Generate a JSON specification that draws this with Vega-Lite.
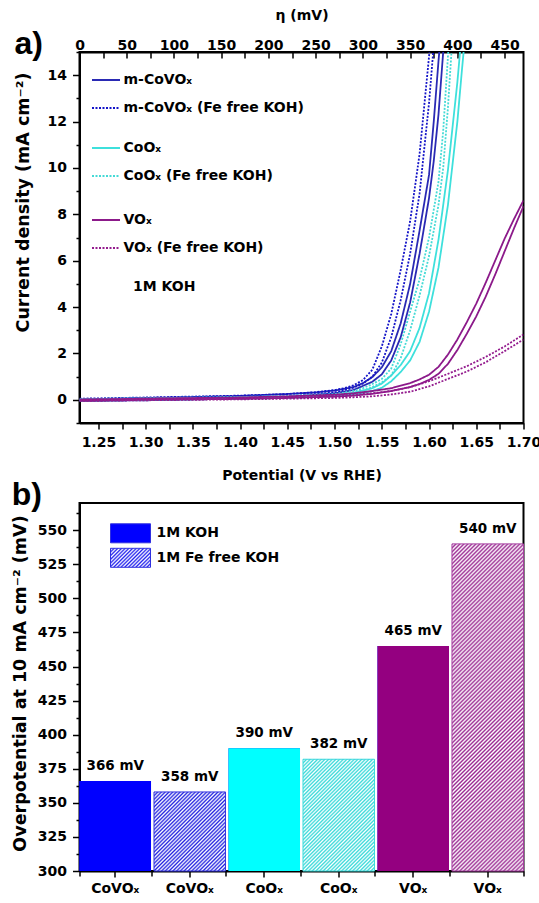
{
"$schema": "https://vega.github.io/schema/vega-lite/v6.json",
"background": "white",
"padding": {"left": 10.5, "top": 7, "right": 0, "bottom": 0},
"spacing": -5,
"config": {
  "font": "DejaVu Sans",
  "view": {"stroke": "black", "strokeWidth": 2},
  "axis": {"labelFont": "DejaVu Sans", "labelFontWeight": "bold", "labelFontSize": 14, "labelColor": "black", "titleFont": "DejaVu Sans", "titleFontWeight": "bold", "titleFontSize": 14, "titleColor": "black", "domainColor": "black", "domainWidth": 2, "tickColor": "black", "tickWidth": 1.5, "grid": false, "labelFlush": false, "labelOverlap": false, "labelBound": false},
  "legend": {"labelFont": "DejaVu Sans", "labelFontWeight": "bold", "labelFontSize": 14, "labelColor": "black", "labelLimit": 400},
  "title": {"font": "Liberation Sans", "fontWeight": "bold", "fontSize": 32, "color": "black"}
},
"vconcat": [
{
  "width": 444, "height": 371,
  "title": {"text": "a)", "anchor": "start", "frame": "bounds", "baseline": "alphabetic", "dy": 82, "offset": 4},
  "data": {"values": [
{"s":"m-CoVOₓ","g":"CoVO","b":"a","E":1.23,"j":0.02},{"s":"m-CoVOₓ","g":"CoVO","b":"a","E":1.30,"j":0.08},{"s":"m-CoVOₓ","g":"CoVO","b":"a","E":1.35,"j":0.12},{"s":"m-CoVOₓ","g":"CoVO","b":"a","E":1.40,"j":0.17},{"s":"m-CoVOₓ","g":"CoVO","b":"a","E":1.45,"j":0.25},{"s":"m-CoVOₓ","g":"CoVO","b":"a","E":1.48,"j":0.32},{"s":"m-CoVOₓ","g":"CoVO","b":"a","E":1.50,"j":0.40},{"s":"m-CoVOₓ","g":"CoVO","b":"a","E":1.52,"j":0.55},{"s":"m-CoVOₓ","g":"CoVO","b":"a","E":1.53,"j":0.72},{"s":"m-CoVOₓ","g":"CoVO","b":"a","E":1.54,"j":0.98},{"s":"m-CoVOₓ","g":"CoVO","b":"a","E":1.55,"j":1.4},{"s":"m-CoVOₓ","g":"CoVO","b":"a","E":1.56,"j":2.1},{"s":"m-CoVOₓ","g":"CoVO","b":"a","E":1.57,"j":3.3},{"s":"m-CoVOₓ","g":"CoVO","b":"a","E":1.58,"j":5.0},{"s":"m-CoVOₓ","g":"CoVO","b":"a","E":1.59,"j":7.3},{"s":"m-CoVOₓ","g":"CoVO","b":"a","E":1.60,"j":9.7},{"s":"m-CoVOₓ","g":"CoVO","b":"a","E":1.605,"j":12.0},{"s":"m-CoVOₓ","g":"CoVO","b":"a","E":1.61,"j":14.6},{"s":"m-CoVOₓ","g":"CoVO","b":"a","E":1.613,"j":16.0},
{"s":"m-CoVOₓ","g":"CoVO","b":"b","E":1.23,"j":-0.05},{"s":"m-CoVOₓ","g":"CoVO","b":"b","E":1.30,"j":-0.02},{"s":"m-CoVOₓ","g":"CoVO","b":"b","E":1.40,"j":0.05},{"s":"m-CoVOₓ","g":"CoVO","b":"b","E":1.45,"j":0.12},{"s":"m-CoVOₓ","g":"CoVO","b":"b","E":1.50,"j":0.28},{"s":"m-CoVOₓ","g":"CoVO","b":"b","E":1.52,"j":0.42},{"s":"m-CoVOₓ","g":"CoVO","b":"b","E":1.54,"j":0.78},{"s":"m-CoVOₓ","g":"CoVO","b":"b","E":1.55,"j":1.1},{"s":"m-CoVOₓ","g":"CoVO","b":"b","E":1.56,"j":1.7},{"s":"m-CoVOₓ","g":"CoVO","b":"b","E":1.57,"j":2.7},{"s":"m-CoVOₓ","g":"CoVO","b":"b","E":1.58,"j":4.2},{"s":"m-CoVOₓ","g":"CoVO","b":"b","E":1.59,"j":6.3},{"s":"m-CoVOₓ","g":"CoVO","b":"b","E":1.60,"j":8.7},{"s":"m-CoVOₓ","g":"CoVO","b":"b","E":1.605,"j":10.3},{"s":"m-CoVOₓ","g":"CoVO","b":"b","E":1.61,"j":12.3},{"s":"m-CoVOₓ","g":"CoVO","b":"b","E":1.615,"j":15.0},{"s":"m-CoVOₓ","g":"CoVO","b":"b","E":1.618,"j":16.5},
{"s":"m-CoVOₓ (Fe free KOH)","g":"CoVO","b":"a","E":1.23,"j":0.05},{"s":"m-CoVOₓ (Fe free KOH)","g":"CoVO","b":"a","E":1.30,"j":0.1},{"s":"m-CoVOₓ (Fe free KOH)","g":"CoVO","b":"a","E":1.40,"j":0.18},{"s":"m-CoVOₓ (Fe free KOH)","g":"CoVO","b":"a","E":1.45,"j":0.25},{"s":"m-CoVOₓ (Fe free KOH)","g":"CoVO","b":"a","E":1.48,"j":0.33},{"s":"m-CoVOₓ (Fe free KOH)","g":"CoVO","b":"a","E":1.50,"j":0.42},{"s":"m-CoVOₓ (Fe free KOH)","g":"CoVO","b":"a","E":1.51,"j":0.5},{"s":"m-CoVOₓ (Fe free KOH)","g":"CoVO","b":"a","E":1.52,"j":0.62},{"s":"m-CoVOₓ (Fe free KOH)","g":"CoVO","b":"a","E":1.53,"j":0.85},{"s":"m-CoVOₓ (Fe free KOH)","g":"CoVO","b":"a","E":1.54,"j":1.3},{"s":"m-CoVOₓ (Fe free KOH)","g":"CoVO","b":"a","E":1.55,"j":2.3},{"s":"m-CoVOₓ (Fe free KOH)","g":"CoVO","b":"a","E":1.56,"j":3.7},{"s":"m-CoVOₓ (Fe free KOH)","g":"CoVO","b":"a","E":1.57,"j":5.6},{"s":"m-CoVOₓ (Fe free KOH)","g":"CoVO","b":"a","E":1.58,"j":7.7},{"s":"m-CoVOₓ (Fe free KOH)","g":"CoVO","b":"a","E":1.59,"j":10.6},{"s":"m-CoVOₓ (Fe free KOH)","g":"CoVO","b":"a","E":1.60,"j":14.8},{"s":"m-CoVOₓ (Fe free KOH)","g":"CoVO","b":"a","E":1.603,"j":16.2},
{"s":"m-CoVOₓ (Fe free KOH)","g":"CoVO","b":"b","E":1.23,"j":-0.03},{"s":"m-CoVOₓ (Fe free KOH)","g":"CoVO","b":"b","E":1.30,"j":0.0},{"s":"m-CoVOₓ (Fe free KOH)","g":"CoVO","b":"b","E":1.40,"j":0.08},{"s":"m-CoVOₓ (Fe free KOH)","g":"CoVO","b":"b","E":1.45,"j":0.15},{"s":"m-CoVOₓ (Fe free KOH)","g":"CoVO","b":"b","E":1.50,"j":0.32},{"s":"m-CoVOₓ (Fe free KOH)","g":"CoVO","b":"b","E":1.52,"j":0.52},{"s":"m-CoVOₓ (Fe free KOH)","g":"CoVO","b":"b","E":1.53,"j":0.7},{"s":"m-CoVOₓ (Fe free KOH)","g":"CoVO","b":"b","E":1.54,"j":1.0},{"s":"m-CoVOₓ (Fe free KOH)","g":"CoVO","b":"b","E":1.55,"j":1.6},{"s":"m-CoVOₓ (Fe free KOH)","g":"CoVO","b":"b","E":1.56,"j":2.7},{"s":"m-CoVOₓ (Fe free KOH)","g":"CoVO","b":"b","E":1.57,"j":4.3},{"s":"m-CoVOₓ (Fe free KOH)","g":"CoVO","b":"b","E":1.58,"j":6.3},{"s":"m-CoVOₓ (Fe free KOH)","g":"CoVO","b":"b","E":1.59,"j":8.9},{"s":"m-CoVOₓ (Fe free KOH)","g":"CoVO","b":"b","E":1.60,"j":12.8},{"s":"m-CoVOₓ (Fe free KOH)","g":"CoVO","b":"b","E":1.605,"j":15.3},{"s":"m-CoVOₓ (Fe free KOH)","g":"CoVO","b":"b","E":1.608,"j":16.8},
{"s":"CoOₓ","g":"CoO","b":"a","E":1.23,"j":0.0},{"s":"CoOₓ","g":"CoO","b":"a","E":1.30,"j":0.05},{"s":"CoOₓ","g":"CoO","b":"a","E":1.40,"j":0.1},{"s":"CoOₓ","g":"CoO","b":"a","E":1.45,"j":0.13},{"s":"CoOₓ","g":"CoO","b":"a","E":1.50,"j":0.2},{"s":"CoOₓ","g":"CoO","b":"a","E":1.52,"j":0.3},{"s":"CoOₓ","g":"CoO","b":"a","E":1.54,"j":0.5},{"s":"CoOₓ","g":"CoO","b":"a","E":1.55,"j":0.7},{"s":"CoOₓ","g":"CoO","b":"a","E":1.56,"j":1.05},{"s":"CoOₓ","g":"CoO","b":"a","E":1.57,"j":1.5},{"s":"CoOₓ","g":"CoO","b":"a","E":1.58,"j":2.1},{"s":"CoOₓ","g":"CoO","b":"a","E":1.59,"j":3.1},{"s":"CoOₓ","g":"CoO","b":"a","E":1.60,"j":4.6},{"s":"CoOₓ","g":"CoO","b":"a","E":1.61,"j":6.9},{"s":"CoOₓ","g":"CoO","b":"a","E":1.62,"j":9.9},{"s":"CoOₓ","g":"CoO","b":"a","E":1.63,"j":13.7},{"s":"CoOₓ","g":"CoO","b":"a","E":1.635,"j":16.0},
{"s":"CoOₓ","g":"CoO","b":"b","E":1.23,"j":-0.05},{"s":"CoOₓ","g":"CoO","b":"b","E":1.30,"j":0.0},{"s":"CoOₓ","g":"CoO","b":"b","E":1.40,"j":0.05},{"s":"CoOₓ","g":"CoO","b":"b","E":1.45,"j":0.08},{"s":"CoOₓ","g":"CoO","b":"b","E":1.50,"j":0.15},{"s":"CoOₓ","g":"CoO","b":"b","E":1.52,"j":0.22},{"s":"CoOₓ","g":"CoO","b":"b","E":1.54,"j":0.38},{"s":"CoOₓ","g":"CoO","b":"b","E":1.55,"j":0.52},{"s":"CoOₓ","g":"CoO","b":"b","E":1.56,"j":0.8},{"s":"CoOₓ","g":"CoO","b":"b","E":1.57,"j":1.2},{"s":"CoOₓ","g":"CoO","b":"b","E":1.58,"j":1.7},{"s":"CoOₓ","g":"CoO","b":"b","E":1.59,"j":2.5},{"s":"CoOₓ","g":"CoO","b":"b","E":1.60,"j":3.8},{"s":"CoOₓ","g":"CoO","b":"b","E":1.61,"j":5.7},{"s":"CoOₓ","g":"CoO","b":"b","E":1.62,"j":8.4},{"s":"CoOₓ","g":"CoO","b":"b","E":1.63,"j":12.0},{"s":"CoOₓ","g":"CoO","b":"b","E":1.635,"j":14.3},{"s":"CoOₓ","g":"CoO","b":"b","E":1.64,"j":16.5},
{"s":"CoOₓ (Fe free KOH)","g":"CoO","b":"a","E":1.23,"j":0.03},{"s":"CoOₓ (Fe free KOH)","g":"CoO","b":"a","E":1.30,"j":0.07},{"s":"CoOₓ (Fe free KOH)","g":"CoO","b":"a","E":1.40,"j":0.12},{"s":"CoOₓ (Fe free KOH)","g":"CoO","b":"a","E":1.45,"j":0.17},{"s":"CoOₓ (Fe free KOH)","g":"CoO","b":"a","E":1.50,"j":0.25},{"s":"CoOₓ (Fe free KOH)","g":"CoO","b":"a","E":1.52,"j":0.38},{"s":"CoOₓ (Fe free KOH)","g":"CoO","b":"a","E":1.53,"j":0.5},{"s":"CoOₓ (Fe free KOH)","g":"CoO","b":"a","E":1.54,"j":0.68},{"s":"CoOₓ (Fe free KOH)","g":"CoO","b":"a","E":1.55,"j":0.9},{"s":"CoOₓ (Fe free KOH)","g":"CoO","b":"a","E":1.56,"j":1.35},{"s":"CoOₓ (Fe free KOH)","g":"CoO","b":"a","E":1.57,"j":2.4},{"s":"CoOₓ (Fe free KOH)","g":"CoO","b":"a","E":1.58,"j":3.8},{"s":"CoOₓ (Fe free KOH)","g":"CoO","b":"a","E":1.59,"j":5.2},{"s":"CoOₓ (Fe free KOH)","g":"CoO","b":"a","E":1.60,"j":7.0},{"s":"CoOₓ (Fe free KOH)","g":"CoO","b":"a","E":1.61,"j":9.4},{"s":"CoOₓ (Fe free KOH)","g":"CoO","b":"a","E":1.615,"j":11.6},{"s":"CoOₓ (Fe free KOH)","g":"CoO","b":"a","E":1.62,"j":14.8},{"s":"CoOₓ (Fe free KOH)","g":"CoO","b":"a","E":1.623,"j":16.5},
{"s":"CoOₓ (Fe free KOH)","g":"CoO","b":"b","E":1.23,"j":-0.02},{"s":"CoOₓ (Fe free KOH)","g":"CoO","b":"b","E":1.30,"j":0.02},{"s":"CoOₓ (Fe free KOH)","g":"CoO","b":"b","E":1.40,"j":0.07},{"s":"CoOₓ (Fe free KOH)","g":"CoO","b":"b","E":1.45,"j":0.12},{"s":"CoOₓ (Fe free KOH)","g":"CoO","b":"b","E":1.50,"j":0.2},{"s":"CoOₓ (Fe free KOH)","g":"CoO","b":"b","E":1.52,"j":0.3},{"s":"CoOₓ (Fe free KOH)","g":"CoO","b":"b","E":1.53,"j":0.4},{"s":"CoOₓ (Fe free KOH)","g":"CoO","b":"b","E":1.54,"j":0.55},{"s":"CoOₓ (Fe free KOH)","g":"CoO","b":"b","E":1.55,"j":0.75},{"s":"CoOₓ (Fe free KOH)","g":"CoO","b":"b","E":1.56,"j":1.05},{"s":"CoOₓ (Fe free KOH)","g":"CoO","b":"b","E":1.57,"j":1.8},{"s":"CoOₓ (Fe free KOH)","g":"CoO","b":"b","E":1.58,"j":3.0},{"s":"CoOₓ (Fe free KOH)","g":"CoO","b":"b","E":1.59,"j":4.5},{"s":"CoOₓ (Fe free KOH)","g":"CoO","b":"b","E":1.60,"j":6.2},{"s":"CoOₓ (Fe free KOH)","g":"CoO","b":"b","E":1.61,"j":8.4},{"s":"CoOₓ (Fe free KOH)","g":"CoO","b":"b","E":1.615,"j":10.0},{"s":"CoOₓ (Fe free KOH)","g":"CoO","b":"b","E":1.62,"j":12.6},{"s":"CoOₓ (Fe free KOH)","g":"CoO","b":"b","E":1.625,"j":15.8},{"s":"CoOₓ (Fe free KOH)","g":"CoO","b":"b","E":1.627,"j":17.0},
{"s":"VOₓ","g":"VO","b":"a","E":1.23,"j":0.0},{"s":"VOₓ","g":"VO","b":"a","E":1.30,"j":0.05},{"s":"VOₓ","g":"VO","b":"a","E":1.40,"j":0.1},{"s":"VOₓ","g":"VO","b":"a","E":1.45,"j":0.15},{"s":"VOₓ","g":"VO","b":"a","E":1.50,"j":0.22},{"s":"VOₓ","g":"VO","b":"a","E":1.52,"j":0.28},{"s":"VOₓ","g":"VO","b":"a","E":1.54,"j":0.38},{"s":"VOₓ","g":"VO","b":"a","E":1.56,"j":0.5},{"s":"VOₓ","g":"VO","b":"a","E":1.58,"j":0.72},{"s":"VOₓ","g":"VO","b":"a","E":1.59,"j":0.88},{"s":"VOₓ","g":"VO","b":"a","E":1.60,"j":1.08},{"s":"VOₓ","g":"VO","b":"a","E":1.61,"j":1.42},{"s":"VOₓ","g":"VO","b":"a","E":1.62,"j":1.95},{"s":"VOₓ","g":"VO","b":"a","E":1.63,"j":2.6},{"s":"VOₓ","g":"VO","b":"a","E":1.64,"j":3.35},{"s":"VOₓ","g":"VO","b":"a","E":1.65,"j":4.15},{"s":"VOₓ","g":"VO","b":"a","E":1.66,"j":5.05},{"s":"VOₓ","g":"VO","b":"a","E":1.67,"j":6.0},{"s":"VOₓ","g":"VO","b":"a","E":1.68,"j":6.95},{"s":"VOₓ","g":"VO","b":"a","E":1.69,"j":7.8},{"s":"VOₓ","g":"VO","b":"a","E":1.70,"j":8.6},
{"s":"VOₓ","g":"VO","b":"b","E":1.23,"j":-0.05},{"s":"VOₓ","g":"VO","b":"b","E":1.30,"j":0.0},{"s":"VOₓ","g":"VO","b":"b","E":1.40,"j":0.04},{"s":"VOₓ","g":"VO","b":"b","E":1.45,"j":0.08},{"s":"VOₓ","g":"VO","b":"b","E":1.50,"j":0.14},{"s":"VOₓ","g":"VO","b":"b","E":1.52,"j":0.18},{"s":"VOₓ","g":"VO","b":"b","E":1.54,"j":0.26},{"s":"VOₓ","g":"VO","b":"b","E":1.56,"j":0.38},{"s":"VOₓ","g":"VO","b":"b","E":1.58,"j":0.55},{"s":"VOₓ","g":"VO","b":"b","E":1.59,"j":0.68},{"s":"VOₓ","g":"VO","b":"b","E":1.60,"j":0.86},{"s":"VOₓ","g":"VO","b":"b","E":1.61,"j":1.12},{"s":"VOₓ","g":"VO","b":"b","E":1.62,"j":1.55},{"s":"VOₓ","g":"VO","b":"b","E":1.63,"j":2.15},{"s":"VOₓ","g":"VO","b":"b","E":1.64,"j":2.85},{"s":"VOₓ","g":"VO","b":"b","E":1.65,"j":3.6},{"s":"VOₓ","g":"VO","b":"b","E":1.66,"j":4.45},{"s":"VOₓ","g":"VO","b":"b","E":1.67,"j":5.4},{"s":"VOₓ","g":"VO","b":"b","E":1.68,"j":6.4},{"s":"VOₓ","g":"VO","b":"b","E":1.69,"j":7.4},{"s":"VOₓ","g":"VO","b":"b","E":1.70,"j":8.35},
{"s":"VOₓ (Fe free KOH)","g":"VO","b":"a","E":1.23,"j":0.02},{"s":"VOₓ (Fe free KOH)","g":"VO","b":"a","E":1.30,"j":0.05},{"s":"VOₓ (Fe free KOH)","g":"VO","b":"a","E":1.40,"j":0.09},{"s":"VOₓ (Fe free KOH)","g":"VO","b":"a","E":1.45,"j":0.12},{"s":"VOₓ (Fe free KOH)","g":"VO","b":"a","E":1.50,"j":0.18},{"s":"VOₓ (Fe free KOH)","g":"VO","b":"a","E":1.52,"j":0.22},{"s":"VOₓ (Fe free KOH)","g":"VO","b":"a","E":1.54,"j":0.28},{"s":"VOₓ (Fe free KOH)","g":"VO","b":"a","E":1.56,"j":0.38},{"s":"VOₓ (Fe free KOH)","g":"VO","b":"a","E":1.58,"j":0.55},{"s":"VOₓ (Fe free KOH)","g":"VO","b":"a","E":1.60,"j":0.8},{"s":"VOₓ (Fe free KOH)","g":"VO","b":"a","E":1.62,"j":1.12},{"s":"VOₓ (Fe free KOH)","g":"VO","b":"a","E":1.64,"j":1.45},{"s":"VOₓ (Fe free KOH)","g":"VO","b":"a","E":1.66,"j":1.85},{"s":"VOₓ (Fe free KOH)","g":"VO","b":"a","E":1.68,"j":2.3},{"s":"VOₓ (Fe free KOH)","g":"VO","b":"a","E":1.70,"j":2.82},
{"s":"VOₓ (Fe free KOH)","g":"VO","b":"b","E":1.23,"j":-0.05},{"s":"VOₓ (Fe free KOH)","g":"VO","b":"b","E":1.30,"j":-0.02},{"s":"VOₓ (Fe free KOH)","g":"VO","b":"b","E":1.40,"j":0.02},{"s":"VOₓ (Fe free KOH)","g":"VO","b":"b","E":1.45,"j":0.05},{"s":"VOₓ (Fe free KOH)","g":"VO","b":"b","E":1.50,"j":0.08},{"s":"VOₓ (Fe free KOH)","g":"VO","b":"b","E":1.52,"j":0.11},{"s":"VOₓ (Fe free KOH)","g":"VO","b":"b","E":1.54,"j":0.15},{"s":"VOₓ (Fe free KOH)","g":"VO","b":"b","E":1.56,"j":0.23},{"s":"VOₓ (Fe free KOH)","g":"VO","b":"b","E":1.58,"j":0.35},{"s":"VOₓ (Fe free KOH)","g":"VO","b":"b","E":1.60,"j":0.58},{"s":"VOₓ (Fe free KOH)","g":"VO","b":"b","E":1.62,"j":0.9},{"s":"VOₓ (Fe free KOH)","g":"VO","b":"b","E":1.64,"j":1.22},{"s":"VOₓ (Fe free KOH)","g":"VO","b":"b","E":1.66,"j":1.62},{"s":"VOₓ (Fe free KOH)","g":"VO","b":"b","E":1.68,"j":2.1},{"s":"VOₓ (Fe free KOH)","g":"VO","b":"b","E":1.70,"j":2.6}
  ]},
  "layer": [
    {
      "transform": [{"filter": "datum.g === 'CoVO'"}],
      "mark": {"type": "line", "strokeWidth": 1.8, "clip": true},
      "encoding": {
        "x": {"field": "E", "type": "quantitative", "scale": {"domain": [1.23, 1.7], "nice": false, "zero": false},
          "axis": {"orient": "bottom", "values": [1.25,1.275,1.3,1.325,1.35,1.375,1.4,1.425,1.45,1.475,1.5,1.525,1.55,1.575,1.6,1.625,1.65,1.675,1.7], "labelExpr": "round(datum.value*1000) % 50 === 0 ? format(datum.value, '.2f') : ''", "labelOverlap": false, "labelFlush": false, "tickSize": 6, "labelPadding": 6, "title": "Potential (V vs RHE)", "titlePadding": 19}},
        "y": {"field": "j", "type": "quantitative", "scale": {"domain": [-1, 15], "nice": false, "zero": false},
          "axis": {"orient": "left", "values": [0,2,4,6,8,10,12,14], "labelOverlap": false, "labelFlush": false, "tickSize": 7, "labelPadding": 6, "title": "Current density (mA cm⁻²)", "titleFontSize": 17.5, "titlePadding": 14.5, "titleY": 150}},
        "color": {"field": "s", "type": "nominal", "scale": {"domain": ["m-CoVOₓ", "m-CoVOₓ (Fe free KOH)"], "range": ["#2a2ab4", "#1414c8"]},
          "legend": {"title": null, "orient": "none", "legendX": 11.5, "legendY": 13, "symbolType": "stroke", "symbolSize": 784, "symbolStrokeWidth": 2, "labelOffset": 2.5, "rowPadding": 6, "padding": 0}},
        "strokeDash": {"field": "s", "type": "nominal", "scale": {"domain": ["m-CoVOₓ", "m-CoVOₓ (Fe free KOH)"], "range": [[1, 0], [2, 1.5]]},
          "legend": {"title": null, "orient": "none", "legendX": 11.5, "legendY": 13, "symbolType": "stroke", "symbolSize": 784, "symbolStrokeWidth": 2, "labelOffset": 2.5, "rowPadding": 6, "padding": 0}},
        "detail": {"field": "b"}
      }
    },
    {
      "transform": [{"filter": "datum.g === 'CoO'"}],
      "mark": {"type": "line", "strokeWidth": 1.8, "clip": true},
      "encoding": {
        "x": {"field": "E", "type": "quantitative",
          "axis": {"orient": "top", "values": [1.23,1.255,1.28,1.305,1.33,1.355,1.38,1.405,1.43,1.455,1.48,1.505,1.53,1.555,1.58,1.605,1.63,1.655,1.68], "labelExpr": "round((datum.value-1.23)*1000) % 50 === 0 ? '' + round((datum.value-1.23)*1000) : ''", "labelOverlap": false, "labelFlush": false, "tickSize": -6, "labelPadding": 6, "title": "η (mV)", "titlePadding": 16}},
        "y": {"field": "j", "type": "quantitative",
          "axis": {"orient": "left", "values": [-1,1,3,5,7,9,11,13,15], "labels": false, "domain": false, "tickSize": 3.5, "title": null}},
        "color": {"field": "s", "type": "nominal", "scale": {"domain": ["CoOₓ", "CoOₓ (Fe free KOH)"], "range": ["#3ee0dc", "#44dad6"]},
          "legend": {"title": null, "orient": "none", "legendX": 11.5, "legendY": 81, "symbolType": "stroke", "symbolSize": 784, "symbolStrokeWidth": 2, "labelOffset": 2.5, "rowPadding": 6, "padding": 0}},
        "strokeDash": {"field": "s", "type": "nominal", "scale": {"domain": ["CoOₓ", "CoOₓ (Fe free KOH)"], "range": [[1, 0], [2, 1.5]]},
          "legend": {"title": null, "orient": "none", "legendX": 11.5, "legendY": 81, "symbolType": "stroke", "symbolSize": 784, "symbolStrokeWidth": 2, "labelOffset": 2.5, "rowPadding": 6, "padding": 0}},
        "detail": {"field": "b"}
      }
    },
    {
      "transform": [{"filter": "datum.g === 'VO'"}],
      "mark": {"type": "line", "strokeWidth": 1.8, "clip": true},
      "encoding": {
        "x": {"field": "E", "type": "quantitative", "axis": null},
        "y": {"field": "j", "type": "quantitative", "axis": null},
        "color": {"field": "s", "type": "nominal", "scale": {"domain": ["VOₓ", "VOₓ (Fe free KOH)"], "range": ["#8c1a8a", "#941c8e"]},
          "legend": {"title": null, "orient": "none", "legendX": 11.5, "legendY": 153, "symbolType": "stroke", "symbolSize": 784, "symbolStrokeWidth": 2, "labelOffset": 2.5, "rowPadding": 6, "padding": 0}},
        "strokeDash": {"field": "s", "type": "nominal", "scale": {"domain": ["VOₓ", "VOₓ (Fe free KOH)"], "range": [[1, 0], [2, 1.5]]},
          "legend": {"title": null, "orient": "none", "legendX": 11.5, "legendY": 153, "symbolType": "stroke", "symbolSize": 784, "symbolStrokeWidth": 2, "labelOffset": 2.5, "rowPadding": 6, "padding": 0}},
        "detail": {"field": "b"}
      }
    },
    {
      "data": {"values": [{"note": "1M KOH"}]},
      "mark": {"type": "text", "align": "left", "baseline": "middle", "fontWeight": "bold", "fontSize": 14, "font": "DejaVu Sans", "color": "black"},
      "encoding": {
        "x": {"datum": 1.2866, "type": "quantitative", "axis": null},
        "y": {"datum": 4.86, "type": "quantitative", "axis": null},
        "text": {"field": "note"}
      }
    }
  ],
  "resolve": {"scale": {"color": "independent", "strokeDash": "independent"}, "axis": {"x": "independent", "y": "independent"}}
},
{
  "width": 444, "height": 368,
  "title": {"text": "b)", "anchor": "start", "frame": "bounds", "baseline": "alphabetic", "dy": 38, "offset": 4},
  "data": {"values": [
    {"id": "CoVO_K", "mat": "CoVO", "el": "1M KOH", "eta": 366, "label": "366 mV"},
    {"id": "CoVO_Fe", "mat": "CoVO", "el": "1M Fe free KOH", "eta": 358, "label": "358 mV"},
    {"id": "CoO_K", "mat": "CoO", "el": "1M KOH", "eta": 390, "label": "390 mV"},
    {"id": "CoO_Fe", "mat": "CoO", "el": "1M Fe free KOH", "eta": 382, "label": "382 mV"},
    {"id": "VO_K", "mat": "VO", "el": "1M KOH", "eta": 465, "label": "465 mV"},
    {"id": "VO_Fe", "mat": "VO", "el": "1M Fe free KOH", "eta": 540, "label": "540 mV"}
  ]},
  "layer": [
    {
      "mark": {"type": "bar"},
      "encoding": {
        "x": {"field": "id", "type": "nominal", "scale": {"domain": ["CoVO_K", "CoVO_Fe", "CoO_K", "CoO_Fe", "VO_K", "VO_Fe"], "paddingInner": 0.04, "paddingOuter": 0},
          "axis": {"labelExpr": "indexof(datum.value, 'CoVO') === 0 ? 'CoVOₓ' : (indexof(datum.value, 'CoO') === 0 ? 'CoOₓ' : 'VOₓ')", "labelOverlap": false, "tickSize": 6, "labelPadding": 4, "labelAngle": 0, "title": null}},
        "y": {"field": "eta", "type": "quantitative", "scale": {"domain": [300, 570], "nice": false, "zero": false},
          "axis": {"orient": "left", "values": [300,325,350,375,400,425,450,475,500,525,550], "labelOverlap": false, "labelFlush": false, "tickSize": 7, "labelPadding": 6, "title": "Overpotential at 10 mA cm⁻² (mV)", "titleFontSize": 17.5, "titlePadding": 7.5, "titleY": 180}},
        "y2": {"datum": 300},
        "fill": {"field": "el", "type": "nominal",
          "scale": {"domain": ["1M KOH", "1M Fe free KOH"], "range": ["#0000ff", {"expr": "{gradient:'linear',x1:0,y1:0,x2:1.2035,y2:0.5716,stops:[{offset:0,color:'#22e'},{offset:0.03125,color:'#fff'},{offset:0.0625,color:'#22e'},{offset:0.09375,color:'#fff'},{offset:0.125,color:'#22e'},{offset:0.15625,color:'#fff'},{offset:0.1875,color:'#22e'},{offset:0.21875,color:'#fff'},{offset:0.25,color:'#22e'},{offset:0.28125,color:'#fff'},{offset:0.3125,color:'#22e'},{offset:0.34375,color:'#fff'},{offset:0.375,color:'#22e'},{offset:0.40625,color:'#fff'},{offset:0.4375,color:'#22e'},{offset:0.46875,color:'#fff'},{offset:0.5,color:'#22e'},{offset:0.53125,color:'#fff'},{offset:0.5625,color:'#22e'},{offset:0.59375,color:'#fff'},{offset:0.625,color:'#22e'},{offset:0.65625,color:'#fff'},{offset:0.6875,color:'#22e'},{offset:0.71875,color:'#fff'},{offset:0.75,color:'#22e'},{offset:0.78125,color:'#fff'},{offset:0.8125,color:'#22e'},{offset:0.84375,color:'#fff'},{offset:0.875,color:'#22e'},{offset:0.90625,color:'#fff'},{offset:0.9375,color:'#22e'},{offset:0.96875,color:'#fff'},{offset:1,color:'#22e'}]}"}]},
          "legend": {"title": null, "orient": "none", "legendX": 40.5, "legendY": 470.8, "symbolType": "M-2,-0.95H2V0.95H-2Z", "symbolSize": 400, "symbolStrokeColor": "#3030e0", "symbolStrokeWidth": 1, "labelOffset": 15.5, "rowPadding": 1.5, "padding": 0}}
      }
    },
    {
      "transform": [{"filter": "datum.el === '1M KOH'"}],
      "mark": {"type": "bar"},
      "encoding": {
        "x": {"field": "id", "type": "nominal", "axis": null},
        "y": {"field": "eta", "type": "quantitative",
          "axis": {"orient": "left", "values": [312.5,337.5,362.5,387.5,412.5,437.5,462.5,487.5,512.5,537.5,562.5], "labels": false, "domain": false, "tickSize": 3.5, "title": null}},
        "y2": {"datum": 300},
        "color": {"field": "mat", "type": "nominal", "scale": {"domain": ["CoVO", "CoO", "VO"], "range": ["#0000ff", "#00ffff", "#940080"]}, "legend": null}
      }
    },
    {
      "transform": [{"filter": "datum.id === 'CoVO_Fe'"}],
      "mark": {"type": "bar", "stroke": "#3434e0", "strokeWidth": 1, "fill": {"gradient": "linear", "x1": 0, "y1": 0, "x2": 0.9478, "y2": 1.0472, "stops": [
{"offset":0,"color":"#2424e0"},{"offset":0.0125,"color":"#fff"},{"offset":0.025,"color":"#2424e0"},{"offset":0.0375,"color":"#fff"},{"offset":0.05,"color":"#2424e0"},{"offset":0.0625,"color":"#fff"},{"offset":0.075,"color":"#2424e0"},{"offset":0.0875,"color":"#fff"},{"offset":0.1,"color":"#2424e0"},{"offset":0.1125,"color":"#fff"},{"offset":0.125,"color":"#2424e0"},{"offset":0.1375,"color":"#fff"},{"offset":0.15,"color":"#2424e0"},{"offset":0.1625,"color":"#fff"},{"offset":0.175,"color":"#2424e0"},{"offset":0.1875,"color":"#fff"},{"offset":0.2,"color":"#2424e0"},{"offset":0.2125,"color":"#fff"},{"offset":0.225,"color":"#2424e0"},{"offset":0.2375,"color":"#fff"},{"offset":0.25,"color":"#2424e0"},{"offset":0.2625,"color":"#fff"},{"offset":0.275,"color":"#2424e0"},{"offset":0.2875,"color":"#fff"},{"offset":0.3,"color":"#2424e0"},{"offset":0.3125,"color":"#fff"},{"offset":0.325,"color":"#2424e0"},{"offset":0.3375,"color":"#fff"},{"offset":0.35,"color":"#2424e0"},{"offset":0.3625,"color":"#fff"},{"offset":0.375,"color":"#2424e0"},{"offset":0.3875,"color":"#fff"},{"offset":0.4,"color":"#2424e0"},{"offset":0.4125,"color":"#fff"},{"offset":0.425,"color":"#2424e0"},{"offset":0.4375,"color":"#fff"},{"offset":0.45,"color":"#2424e0"},{"offset":0.4625,"color":"#fff"},{"offset":0.475,"color":"#2424e0"},{"offset":0.4875,"color":"#fff"},{"offset":0.5,"color":"#2424e0"},{"offset":0.5125,"color":"#fff"},{"offset":0.525,"color":"#2424e0"},{"offset":0.5375,"color":"#fff"},{"offset":0.55,"color":"#2424e0"},{"offset":0.5625,"color":"#fff"},{"offset":0.575,"color":"#2424e0"},{"offset":0.5875,"color":"#fff"},{"offset":0.6,"color":"#2424e0"},{"offset":0.6125,"color":"#fff"},{"offset":0.625,"color":"#2424e0"},{"offset":0.6375,"color":"#fff"},{"offset":0.65,"color":"#2424e0"},{"offset":0.6625,"color":"#fff"},{"offset":0.675,"color":"#2424e0"},{"offset":0.6875,"color":"#fff"},{"offset":0.7,"color":"#2424e0"},{"offset":0.7125,"color":"#fff"},{"offset":0.725,"color":"#2424e0"},{"offset":0.7375,"color":"#fff"},{"offset":0.75,"color":"#2424e0"},{"offset":0.7625,"color":"#fff"},{"offset":0.775,"color":"#2424e0"},{"offset":0.7875,"color":"#fff"},{"offset":0.8,"color":"#2424e0"},{"offset":0.8125,"color":"#fff"},{"offset":0.825,"color":"#2424e0"},{"offset":0.8375,"color":"#fff"},{"offset":0.85,"color":"#2424e0"},{"offset":0.8625,"color":"#fff"},{"offset":0.875,"color":"#2424e0"},{"offset":0.8875,"color":"#fff"},{"offset":0.9,"color":"#2424e0"},{"offset":0.9125,"color":"#fff"},{"offset":0.925,"color":"#2424e0"},{"offset":0.9375,"color":"#fff"},{"offset":0.95,"color":"#2424e0"},{"offset":0.9625,"color":"#fff"},{"offset":0.975,"color":"#2424e0"},{"offset":0.9875,"color":"#fff"},{"offset":1,"color":"#2424e0"}
      ]}},
      "encoding": {
        "x": {"field": "id", "type": "nominal", "axis": null},
        "y": {"field": "eta", "type": "quantitative", "axis": null},
        "y2": {"datum": 300}
      }
    },
    {
      "transform": [{"filter": "datum.id === 'CoO_Fe'"}],
      "mark": {"type": "bar", "stroke": "#3cdcdc", "strokeWidth": 1, "fill": {"gradient": "linear", "x1": 0, "y1": 0, "x2": 0.7442, "y2": 1.1636, "stops": [
{"offset":0,"color":"#33d8d8"},{"offset":0.01,"color":"#fff"},{"offset":0.02,"color":"#33d8d8"},{"offset":0.03,"color":"#fff"},{"offset":0.04,"color":"#33d8d8"},{"offset":0.05,"color":"#fff"},{"offset":0.06,"color":"#33d8d8"},{"offset":0.07,"color":"#fff"},{"offset":0.08,"color":"#33d8d8"},{"offset":0.09,"color":"#fff"},{"offset":0.1,"color":"#33d8d8"},{"offset":0.11,"color":"#fff"},{"offset":0.12,"color":"#33d8d8"},{"offset":0.13,"color":"#fff"},{"offset":0.14,"color":"#33d8d8"},{"offset":0.15,"color":"#fff"},{"offset":0.16,"color":"#33d8d8"},{"offset":0.17,"color":"#fff"},{"offset":0.18,"color":"#33d8d8"},{"offset":0.19,"color":"#fff"},{"offset":0.2,"color":"#33d8d8"},{"offset":0.21,"color":"#fff"},{"offset":0.22,"color":"#33d8d8"},{"offset":0.23,"color":"#fff"},{"offset":0.24,"color":"#33d8d8"},{"offset":0.25,"color":"#fff"},{"offset":0.26,"color":"#33d8d8"},{"offset":0.27,"color":"#fff"},{"offset":0.28,"color":"#33d8d8"},{"offset":0.29,"color":"#fff"},{"offset":0.3,"color":"#33d8d8"},{"offset":0.31,"color":"#fff"},{"offset":0.32,"color":"#33d8d8"},{"offset":0.33,"color":"#fff"},{"offset":0.34,"color":"#33d8d8"},{"offset":0.35,"color":"#fff"},{"offset":0.36,"color":"#33d8d8"},{"offset":0.37,"color":"#fff"},{"offset":0.38,"color":"#33d8d8"},{"offset":0.39,"color":"#fff"},{"offset":0.4,"color":"#33d8d8"},{"offset":0.41,"color":"#fff"},{"offset":0.42,"color":"#33d8d8"},{"offset":0.43,"color":"#fff"},{"offset":0.44,"color":"#33d8d8"},{"offset":0.45,"color":"#fff"},{"offset":0.46,"color":"#33d8d8"},{"offset":0.47,"color":"#fff"},{"offset":0.48,"color":"#33d8d8"},{"offset":0.49,"color":"#fff"},{"offset":0.5,"color":"#33d8d8"},{"offset":0.51,"color":"#fff"},{"offset":0.52,"color":"#33d8d8"},{"offset":0.53,"color":"#fff"},{"offset":0.54,"color":"#33d8d8"},{"offset":0.55,"color":"#fff"},{"offset":0.56,"color":"#33d8d8"},{"offset":0.57,"color":"#fff"},{"offset":0.58,"color":"#33d8d8"},{"offset":0.59,"color":"#fff"},{"offset":0.6,"color":"#33d8d8"},{"offset":0.61,"color":"#fff"},{"offset":0.62,"color":"#33d8d8"},{"offset":0.63,"color":"#fff"},{"offset":0.64,"color":"#33d8d8"},{"offset":0.65,"color":"#fff"},{"offset":0.66,"color":"#33d8d8"},{"offset":0.67,"color":"#fff"},{"offset":0.68,"color":"#33d8d8"},{"offset":0.69,"color":"#fff"},{"offset":0.7,"color":"#33d8d8"},{"offset":0.71,"color":"#fff"},{"offset":0.72,"color":"#33d8d8"},{"offset":0.73,"color":"#fff"},{"offset":0.74,"color":"#33d8d8"},{"offset":0.75,"color":"#fff"},{"offset":0.76,"color":"#33d8d8"},{"offset":0.77,"color":"#fff"},{"offset":0.78,"color":"#33d8d8"},{"offset":0.79,"color":"#fff"},{"offset":0.8,"color":"#33d8d8"},{"offset":0.81,"color":"#fff"},{"offset":0.82,"color":"#33d8d8"},{"offset":0.83,"color":"#fff"},{"offset":0.84,"color":"#33d8d8"},{"offset":0.85,"color":"#fff"},{"offset":0.86,"color":"#33d8d8"},{"offset":0.87,"color":"#fff"},{"offset":0.88,"color":"#33d8d8"},{"offset":0.89,"color":"#fff"},{"offset":0.9,"color":"#33d8d8"},{"offset":0.91,"color":"#fff"},{"offset":0.92,"color":"#33d8d8"},{"offset":0.93,"color":"#fff"},{"offset":0.94,"color":"#33d8d8"},{"offset":0.95,"color":"#fff"},{"offset":0.96,"color":"#33d8d8"},{"offset":0.97,"color":"#fff"},{"offset":0.98,"color":"#33d8d8"},{"offset":0.99,"color":"#fff"},{"offset":1,"color":"#33d8d8"}
      ]}},
      "encoding": {
        "x": {"field": "id", "type": "nominal", "axis": null},
        "y": {"field": "eta", "type": "quantitative", "axis": null},
        "y2": {"datum": 300}
      }
    },
    {
      "transform": [{"filter": "datum.id === 'VO_Fe'"}],
      "mark": {"type": "bar", "stroke": "#a63ea0", "strokeWidth": 1, "fill": {"gradient": "linear", "x1": 0, "y1": 0, "x2": 0.2542, "y2": 1.163, "stops": [
{"offset":0,"color":"#9a2a92"},{"offset":0.005,"color":"#fff"},{"offset":0.01,"color":"#9a2a92"},{"offset":0.015,"color":"#fff"},{"offset":0.02,"color":"#9a2a92"},{"offset":0.025,"color":"#fff"},{"offset":0.03,"color":"#9a2a92"},{"offset":0.035,"color":"#fff"},{"offset":0.04,"color":"#9a2a92"},{"offset":0.045,"color":"#fff"},{"offset":0.05,"color":"#9a2a92"},{"offset":0.055,"color":"#fff"},{"offset":0.06,"color":"#9a2a92"},{"offset":0.065,"color":"#fff"},{"offset":0.07,"color":"#9a2a92"},{"offset":0.075,"color":"#fff"},{"offset":0.08,"color":"#9a2a92"},{"offset":0.085,"color":"#fff"},{"offset":0.09,"color":"#9a2a92"},{"offset":0.095,"color":"#fff"},{"offset":0.1,"color":"#9a2a92"},{"offset":0.105,"color":"#fff"},{"offset":0.11,"color":"#9a2a92"},{"offset":0.115,"color":"#fff"},{"offset":0.12,"color":"#9a2a92"},{"offset":0.125,"color":"#fff"},{"offset":0.13,"color":"#9a2a92"},{"offset":0.135,"color":"#fff"},{"offset":0.14,"color":"#9a2a92"},{"offset":0.145,"color":"#fff"},{"offset":0.15,"color":"#9a2a92"},{"offset":0.155,"color":"#fff"},{"offset":0.16,"color":"#9a2a92"},{"offset":0.165,"color":"#fff"},{"offset":0.17,"color":"#9a2a92"},{"offset":0.175,"color":"#fff"},{"offset":0.18,"color":"#9a2a92"},{"offset":0.185,"color":"#fff"},{"offset":0.19,"color":"#9a2a92"},{"offset":0.195,"color":"#fff"},{"offset":0.2,"color":"#9a2a92"},{"offset":0.205,"color":"#fff"},{"offset":0.21,"color":"#9a2a92"},{"offset":0.215,"color":"#fff"},{"offset":0.22,"color":"#9a2a92"},{"offset":0.225,"color":"#fff"},{"offset":0.23,"color":"#9a2a92"},{"offset":0.235,"color":"#fff"},{"offset":0.24,"color":"#9a2a92"},{"offset":0.245,"color":"#fff"},{"offset":0.25,"color":"#9a2a92"},{"offset":0.255,"color":"#fff"},{"offset":0.26,"color":"#9a2a92"},{"offset":0.265,"color":"#fff"},{"offset":0.27,"color":"#9a2a92"},{"offset":0.275,"color":"#fff"},{"offset":0.28,"color":"#9a2a92"},{"offset":0.285,"color":"#fff"},{"offset":0.29,"color":"#9a2a92"},{"offset":0.295,"color":"#fff"},{"offset":0.3,"color":"#9a2a92"},{"offset":0.305,"color":"#fff"},{"offset":0.31,"color":"#9a2a92"},{"offset":0.315,"color":"#fff"},{"offset":0.32,"color":"#9a2a92"},{"offset":0.325,"color":"#fff"},{"offset":0.33,"color":"#9a2a92"},{"offset":0.335,"color":"#fff"},{"offset":0.34,"color":"#9a2a92"},{"offset":0.345,"color":"#fff"},{"offset":0.35,"color":"#9a2a92"},{"offset":0.355,"color":"#fff"},{"offset":0.36,"color":"#9a2a92"},{"offset":0.365,"color":"#fff"},{"offset":0.37,"color":"#9a2a92"},{"offset":0.375,"color":"#fff"},{"offset":0.38,"color":"#9a2a92"},{"offset":0.385,"color":"#fff"},{"offset":0.39,"color":"#9a2a92"},{"offset":0.395,"color":"#fff"},{"offset":0.4,"color":"#9a2a92"},{"offset":0.405,"color":"#fff"},{"offset":0.41,"color":"#9a2a92"},{"offset":0.415,"color":"#fff"},{"offset":0.42,"color":"#9a2a92"},{"offset":0.425,"color":"#fff"},{"offset":0.43,"color":"#9a2a92"},{"offset":0.435,"color":"#fff"},{"offset":0.44,"color":"#9a2a92"},{"offset":0.445,"color":"#fff"},{"offset":0.45,"color":"#9a2a92"},{"offset":0.455,"color":"#fff"},{"offset":0.46,"color":"#9a2a92"},{"offset":0.465,"color":"#fff"},{"offset":0.47,"color":"#9a2a92"},{"offset":0.475,"color":"#fff"},{"offset":0.48,"color":"#9a2a92"},{"offset":0.485,"color":"#fff"},{"offset":0.49,"color":"#9a2a92"},{"offset":0.495,"color":"#fff"},{"offset":0.5,"color":"#9a2a92"},{"offset":0.505,"color":"#fff"},{"offset":0.51,"color":"#9a2a92"},{"offset":0.515,"color":"#fff"},{"offset":0.52,"color":"#9a2a92"},{"offset":0.525,"color":"#fff"},{"offset":0.53,"color":"#9a2a92"},{"offset":0.535,"color":"#fff"},{"offset":0.54,"color":"#9a2a92"},{"offset":0.545,"color":"#fff"},{"offset":0.55,"color":"#9a2a92"},{"offset":0.555,"color":"#fff"},{"offset":0.56,"color":"#9a2a92"},{"offset":0.565,"color":"#fff"},{"offset":0.57,"color":"#9a2a92"},{"offset":0.575,"color":"#fff"},{"offset":0.58,"color":"#9a2a92"},{"offset":0.585,"color":"#fff"},{"offset":0.59,"color":"#9a2a92"},{"offset":0.595,"color":"#fff"},{"offset":0.6,"color":"#9a2a92"},{"offset":0.605,"color":"#fff"},{"offset":0.61,"color":"#9a2a92"},{"offset":0.615,"color":"#fff"},{"offset":0.62,"color":"#9a2a92"},{"offset":0.625,"color":"#fff"},{"offset":0.63,"color":"#9a2a92"},{"offset":0.635,"color":"#fff"},{"offset":0.64,"color":"#9a2a92"},{"offset":0.645,"color":"#fff"},{"offset":0.65,"color":"#9a2a92"},{"offset":0.655,"color":"#fff"},{"offset":0.66,"color":"#9a2a92"},{"offset":0.665,"color":"#fff"},{"offset":0.67,"color":"#9a2a92"},{"offset":0.675,"color":"#fff"},{"offset":0.68,"color":"#9a2a92"},{"offset":0.685,"color":"#fff"},{"offset":0.69,"color":"#9a2a92"},{"offset":0.695,"color":"#fff"},{"offset":0.7,"color":"#9a2a92"},{"offset":0.705,"color":"#fff"},{"offset":0.71,"color":"#9a2a92"},{"offset":0.715,"color":"#fff"},{"offset":0.72,"color":"#9a2a92"},{"offset":0.725,"color":"#fff"},{"offset":0.73,"color":"#9a2a92"},{"offset":0.735,"color":"#fff"},{"offset":0.74,"color":"#9a2a92"},{"offset":0.745,"color":"#fff"},{"offset":0.75,"color":"#9a2a92"},{"offset":0.755,"color":"#fff"},{"offset":0.76,"color":"#9a2a92"},{"offset":0.765,"color":"#fff"},{"offset":0.77,"color":"#9a2a92"},{"offset":0.775,"color":"#fff"},{"offset":0.78,"color":"#9a2a92"},{"offset":0.785,"color":"#fff"},{"offset":0.79,"color":"#9a2a92"},{"offset":0.795,"color":"#fff"},{"offset":0.8,"color":"#9a2a92"},{"offset":0.805,"color":"#fff"},{"offset":0.81,"color":"#9a2a92"},{"offset":0.815,"color":"#fff"},{"offset":0.82,"color":"#9a2a92"},{"offset":0.825,"color":"#fff"},{"offset":0.83,"color":"#9a2a92"},{"offset":0.835,"color":"#fff"},{"offset":0.84,"color":"#9a2a92"},{"offset":0.845,"color":"#fff"},{"offset":0.85,"color":"#9a2a92"},{"offset":0.855,"color":"#fff"},{"offset":0.86,"color":"#9a2a92"},{"offset":0.865,"color":"#fff"},{"offset":0.87,"color":"#9a2a92"},{"offset":0.875,"color":"#fff"},{"offset":0.88,"color":"#9a2a92"},{"offset":0.885,"color":"#fff"},{"offset":0.89,"color":"#9a2a92"},{"offset":0.895,"color":"#fff"},{"offset":0.9,"color":"#9a2a92"},{"offset":0.905,"color":"#fff"},{"offset":0.91,"color":"#9a2a92"},{"offset":0.915,"color":"#fff"},{"offset":0.92,"color":"#9a2a92"},{"offset":0.925,"color":"#fff"},{"offset":0.93,"color":"#9a2a92"},{"offset":0.935,"color":"#fff"},{"offset":0.94,"color":"#9a2a92"},{"offset":0.945,"color":"#fff"},{"offset":0.95,"color":"#9a2a92"},{"offset":0.955,"color":"#fff"},{"offset":0.96,"color":"#9a2a92"},{"offset":0.965,"color":"#fff"},{"offset":0.97,"color":"#9a2a92"},{"offset":0.975,"color":"#fff"},{"offset":0.98,"color":"#9a2a92"},{"offset":0.985,"color":"#fff"},{"offset":0.99,"color":"#9a2a92"},{"offset":0.995,"color":"#fff"},{"offset":1,"color":"#9a2a92"}
      ]}},
      "encoding": {
        "x": {"field": "id", "type": "nominal", "axis": null},
        "y": {"field": "eta", "type": "quantitative", "axis": null},
        "y2": {"datum": 300}
      }
    },
    {
      "mark": {"type": "text", "baseline": "bottom", "dy": -8, "fontWeight": "bold", "fontSize": 13.5, "font": "DejaVu Sans", "color": "black"},
      "encoding": {
        "x": {"field": "id", "type": "nominal", "axis": {"orient": "bottom", "tickBand": "extent", "labels": false, "domain": false, "tickSize": 5, "title": null}},
        "y": {"field": "eta", "type": "quantitative", "axis": null},
        "text": {"field": "label"}
      }
    }
  ],
  "resolve": {"axis": {"x": "independent", "y": "independent"}}
}
]
}
